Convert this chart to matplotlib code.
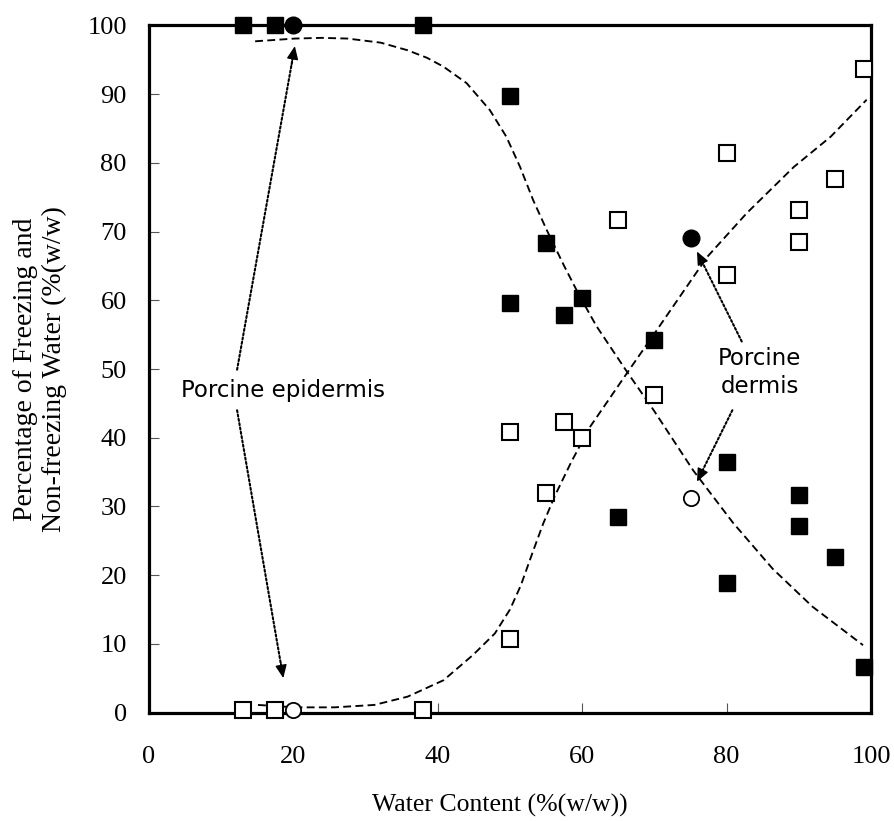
import matplotlib
matplotlib.use("Agg")
import matplotlib.pyplot as plt

# --- data ---------------------------------------------------------------
freezing_x = [13, 17.5, 38, 50, 55, 57.5, 60, 50, 70, 65, 80, 80, 90, 90, 95, 99]
freezing_y = [100, 100, 100, 89.7, 68.3, 57.9, 60.3, 59.6, 54.2, 28.5, 36.5, 18.8, 31.7, 27.1, 22.6, 6.6]
nonfreezing_x = [13, 17.5, 38, 50, 50, 55, 57.5, 60, 65, 70, 80, 80, 90, 90, 95, 99]
nonfreezing_y = [0.3, 0.3, 0.3, 10.7, 40.8, 32.0, 42.3, 40.0, 71.7, 46.2, 81.5, 63.7, 73.1, 68.5, 77.7, 93.7]
circle_filled_x = [20, 75]
circle_filled_y = [100, 69.1]
circle_open_x = [20, 75]
circle_open_y = [0.3, 31.2]

# trend curves
trend_down_x = [14.7, 20.2, 23.9, 27.5, 32.1, 35.8, 38.5, 40.8, 44.0, 47.2, 49.5, 51.4, 53.2,
                55.1, 57.5, 59.7, 62.0, 66.2, 69.9, 75.4, 80.9, 86.4, 91.9, 98.9]
trend_down_y = [97.7, 98.1, 98.2, 98.1, 97.5, 96.4, 95.3, 94.0, 91.6, 87.7, 83.8, 79.4, 74.6,
                70.2, 65.0, 60.5, 56.2, 49.6, 44.0, 35.2, 27.6, 20.9, 15.4, 9.8]
trend_up_x = [15.1, 20.2, 25.7, 31.2, 35.8, 40.8, 44.9, 47.9, 50.0, 51.5, 53.2, 54.6, 56.2,
              58.5, 61.1, 66.2, 69.9, 77.3, 82.8, 89.3, 94.4, 99.4]
trend_up_y = [1.1, 0.75, 0.75, 1.1, 2.3, 4.7, 8.4, 11.5, 15.0, 18.5, 23.5, 27.5, 31.5,
              36.5, 41.6, 49.4, 55.0, 66.3, 72.7, 79.4, 83.8, 89.2]

# annotation arrows: (start x, start y, tip x, tip y)
epidermis_arrows = [(12.2, 49.9, 20.2, 97.0), (12.2, 44.0, 18.6, 5.0)]
dermis_arrows = [(82.1, 54.0, 75.9, 67.1), (80.8, 44.0, 75.9, 33.6)]

x_ticks = [0, 20, 40, 60, 80, 100]
y_ticks = [0, 10, 20, 30, 40, 50, 60, 70, 80, 90, 100]

serif = "Liberation Serif"
sans = ["DejaVu Sans"]

fig = plt.figure(figsize=(8.94, 8.21), dpi=100)
ax = fig.add_axes([149/894, 1 - 712.5/821, (871 - 149)/894, (712.5 - 25.5)/821])

dash = (0, (4.2, 2.3))
ax.plot(trend_down_x, trend_down_y, color="black", lw=1.35, linestyle=dash, zorder=2)
ax.plot(trend_up_x, trend_up_y, color="black", lw=1.35, linestyle=dash, zorder=2)

ms = 12
ax.plot(freezing_x, freezing_y, linestyle="none", marker="s", ms=ms, mfc="black",
        mec="black", mew=1.0, clip_on=False, zorder=4)
ax.plot(nonfreezing_x, nonfreezing_y, linestyle="none", marker="s", ms=ms - 1, mfc="white",
        mec="black", mew=1.5, clip_on=False, zorder=4)
ax.plot(circle_filled_x, circle_filled_y, linestyle="none", marker="o", ms=ms, mfc="black",
        mec="black", mew=1.0, clip_on=False, zorder=5)
ax.plot(circle_open_x, circle_open_y, linestyle="none", marker="o", ms=ms - 1, mfc="white",
        mec="black", mew=1.3, clip_on=False, zorder=5)

ax.set_xlim(0, 100)
ax.set_ylim(0, 100)
ax.set_xticks(x_ticks)
ax.set_yticks(y_ticks)
ax.set_xticklabels([str(v) for v in x_ticks], fontfamily=serif, fontsize=19)
ax.set_yticklabels([str(v) for v in y_ticks], fontfamily=serif, fontsize=19)
ax.tick_params(axis="both", direction="in", length=7, width=0.8, color="#555555")
ax.tick_params(axis="y", pad=16)
ax.tick_params(axis="x", pad=24)
for s in ax.spines.values():
    s.set_linewidth(2.3)
    s.set_color("black")
    s.set_zorder(3)

fig.text(500/894, 1 - 805/821, "Water Content (%(w/w))", fontfamily=serif, fontsize=18.5,
         ha="center", va="center")
fig.text(40/894, 1 - 369/821, "Percentage of Freezing and\nNon-freezing Water (%(w/w)",
         fontfamily=serif, fontsize=20, ha="center", va="center", rotation=90,
         linespacing=1.2)

# annotations
ax.text(18.5, 46.9, "Porcine epidermis", fontfamily=sans, fontsize=16.5, ha="center",
        va="center", zorder=6)
ax.text(84.6, 49.5, "Porcine\ndermis", fontfamily=sans, fontsize=16.5, ha="center",
        va="center", linespacing=1.3, zorder=6)

for x0, y0, x1, y1 in epidermis_arrows + dermis_arrows:
    ax.annotate("", xy=(x1, y1), xytext=(x0, y0),
                arrowprops=dict(arrowstyle="-", color="black", lw=1.5,
                                linestyle=(0, (1, 1.1)), shrinkA=0, shrinkB=4))
    ax.annotate("", xy=(x1, y1), xytext=(x1 - 0.06 * (x1 - x0), y1 - 0.06 * (y1 - y0)),
                arrowprops=dict(arrowstyle="-|>,head_length=0.8,head_width=0.35",
                                color="black", lw=1.0, mutation_scale=10,
                                shrinkA=0, shrinkB=0))

fig.savefig("out.png", dpi=100)
